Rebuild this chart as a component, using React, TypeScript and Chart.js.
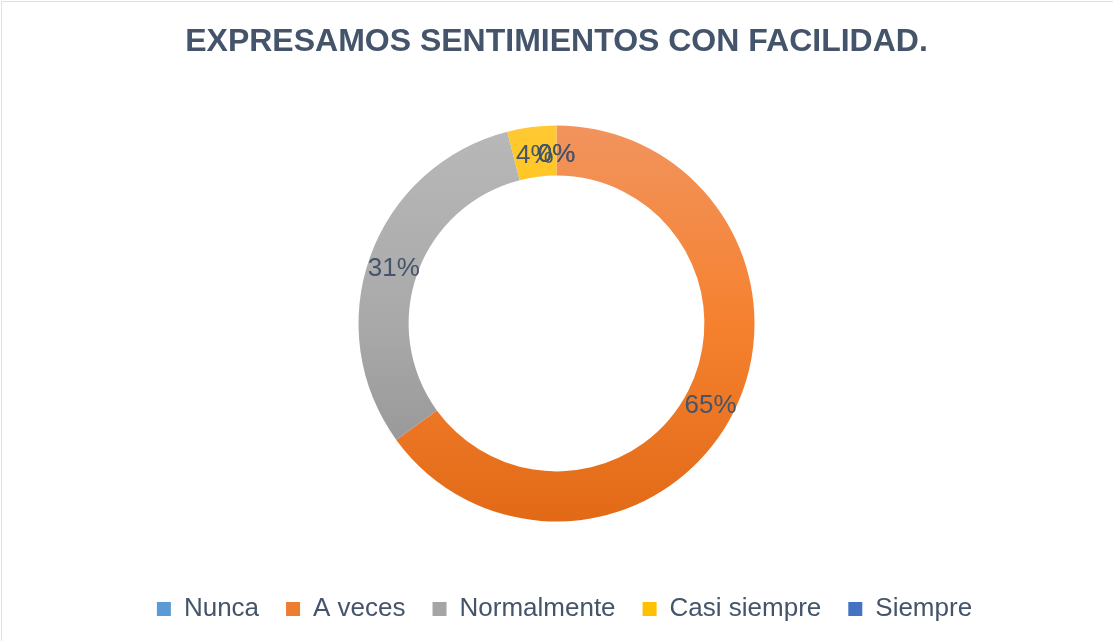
import React, { useEffect, useRef } from "react";
import { Chart, registerables } from "chart.js";

Chart.register(...registerables);

const chartTitle = "EXPRESAMOS SENTIMIENTOS CON FACILIDAD.";
const categories = ["Nunca", "A veces", "Normalmente", "Casi siempre", "Siempre"];
const percentages = [0, 65, 31, 4, 0];
const legendColors = ["#5B9BD5", "#ED7D31", "#A5A5A5", "#FFC000", "#4472C4"];
const gradientTops = ["#6AA6DC", "#F2945E", "#B8B8B8", "#FFC933", "#5580CC"];
const gradientMids = ["#5B9BD5", "#F5812F", "#A9A9A9", "#FFC000", "#4472C4"];
const gradientBottoms = ["#4A86C0", "#E26A17", "#8F8F8F", "#EDB200", "#3863B0"];

const TEXT_COLOR = "#44546A";
const FONT = "'Liberation Sans', Arial, sans-serif";

const labelPlugin = {
  id: "sliceLabels",
  afterLayout(chart: any) {
    const lg = chart.legend;
    if (lg) {
      lg.left += 8;
      lg.right += 8;
    }
  },
  afterDatasetsDraw(chart: any) {
    const ctx = chart.ctx;
    const meta = chart.getDatasetMeta(0);
    ctx.save();
    ctx.font = `26px ${FONT}`;
    ctx.fillStyle = TEXT_COLOR;
    ctx.textAlign = "center";
    ctx.textBaseline = "middle";
    meta.data.forEach((arc: any, i: number) => {
      const { x, y, startAngle, endAngle, innerRadius, outerRadius } = arc.getProps(
        ["x", "y", "startAngle", "endAngle", "innerRadius", "outerRadius"],
        true
      );
      const mid = (startAngle + endAngle) / 2;
      const r = (innerRadius + outerRadius) / 2;
      ctx.fillText(`${percentages[i]}%`, x + Math.cos(mid) * r, y + Math.sin(mid) * r + 4);
    });
    ctx.restore();
  },
};

export default function App() {
  const canvasRef = useRef<HTMLCanvasElement | null>(null);

  useEffect(() => {
    document.body.style.margin = "0";
    const canvas = canvasRef.current;
    if (!canvas) return;
    const chart = new Chart(canvas, {
      type: "doughnut",
      data: {
        labels: categories,
        datasets: [
          {
            data: percentages,
            borderWidth: 0,
            backgroundColor: (c: any) => {
              const i = c.dataIndex;
              const ch = c.chart;
              const area = ch.chartArea;
              if (!area) return legendColors[i];
              const cy = (area.top + area.bottom) / 2;
              const g = ch.ctx.createLinearGradient(0, cy - 198, 0, cy + 198);
              g.addColorStop(0, gradientTops[i]);
              g.addColorStop(0.5, gradientMids[i]);
              g.addColorStop(1, gradientBottoms[i]);
              return g;
            },
          },
        ],
      },
      options: {
        animation: false,
        responsive: false,
        maintainAspectRatio: false,
        radius: 198,
        cutout: "74.7%",
        layout: { padding: { top: 0, left: 0, right: 0, bottom: 9 } },
        plugins: {
          title: {
            display: true,
            text: chartTitle,
            color: TEXT_COLOR,
            font: { family: FONT, size: 32, weight: "bold" },
            padding: { top: 23, bottom: 16.6 },
          },
          legend: {
            position: "bottom",
            labels: {
              color: TEXT_COLOR,
              font: { family: FONT, size: 26 },
              boxWidth: 14,
              boxHeight: 14,
              padding: 27,
              generateLabels: () =>
                categories.map((label, i) => ({
                  text: label,
                  fillStyle: legendColors[i],
                  strokeStyle: legendColors[i],
                  lineWidth: 0,
                  fontColor: TEXT_COLOR,
                  hidden: false,
                  index: i,
                })),
            },
          },
          tooltip: { enabled: false },
        },
      } as any,
      plugins: [labelPlugin],
    });
    return () => chart.destroy();
  }, []);

  return (
    <div style={{ position: "fixed", left: 0, top: 0, width: 1113, height: 641, background: "#fff" }}>
      <canvas ref={canvasRef} width={1113} height={641} style={{ display: "block", width: 1113, height: 641 }} />
      <div
        style={{
          position: "absolute",
          left: 1,
          top: 1,
          width: 1112,
          height: 640,
          borderTop: "1px solid #DCE1EA",
          borderLeft: "1px solid #DCE1EA",
          pointerEvents: "none",
        }}
      />
    </div>
  );
}
